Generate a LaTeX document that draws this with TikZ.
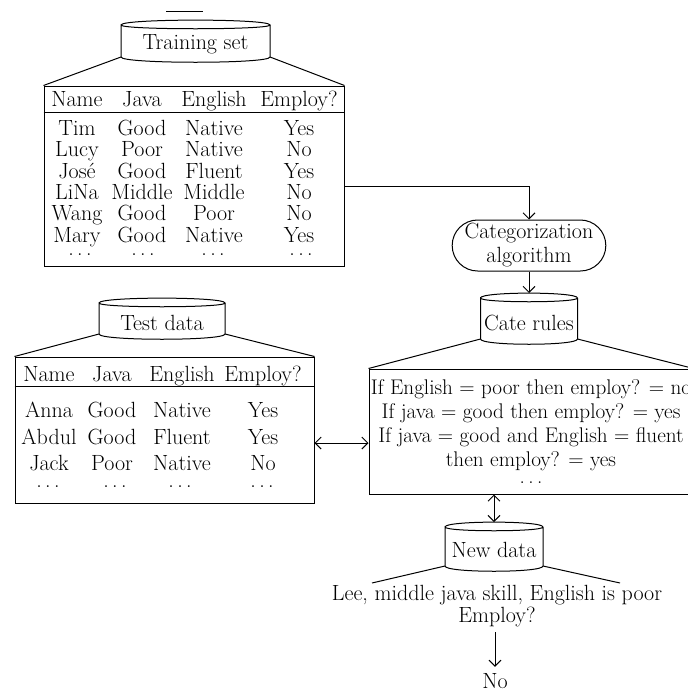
\documentclass[tikz,border=0pt]{standalone}
\usetikzlibrary{arrows.meta,calc,shapes.misc}
\newcommand\mycyl[7]{% name, cx, textY, halfw, topY, botY, text
  \node (#1) at (#2,#3) {#7};
  \coordinate (#1-nw) at ({#2-#4},#5);
  \coordinate (#1-ne) at ({#2+#4},#5);
  \coordinate (#1-sw) at ({#2-#4},#6);
  \coordinate (#1-se) at ({#2+#4},#6);
  \coordinate (#1-top) at (#2,{#5-5});
  \draw (#1-nw) .. controls +(0,-6.5) and +(0,-6.5) .. (#1-ne)
        .. controls +(0,5) and +(0,5) .. (#1-nw) -- (#1-sw)
        .. controls +(0,7) and +(0,7) .. (#1-se) -- (#1-ne);
}
\newcommand\dd{.\hspace{3.5pt}.\hspace{3.5pt}.}
\newcommand\trrow[6]{%
  \node[cell] (#1-1) at (77,#2) {#3};
  \node[cell] (#1-2) at (142,#2) {#4};
  \node[cell] (#1-3) at (214,#2) {#5};
  \node[cell] (#1-4) at (299,#2) {#6};
}
\newcommand\terow[6]{%
  \node[cell] (#1-1) at (49,#2) {#3};
  \node[cell] (#1-2) at (112,#2) {#4};
  \node[cell] (#1-3) at (182,#2) {#5};
  \node[cell] (#1-4) at (263,#2) {#6};
}
\begin{document}
\begin{tikzpicture}[x=1pt,y=-1pt,line width=1pt,
  every node/.style={font=\fontsize{22}{24}\selectfont,inner sep=0pt},
  cell/.style={text height=15pt,text depth=4pt},
  dotcell/.style={},
  arr/.style={-{Straight Barb[length=6pt,width=12pt]}},
  darr/.style={{Straight Barb[length=6pt,width=12pt]}-{Straight Barb[length=6pt,width=12pt]}}]
\useasboundingbox (0,0) rectangle (688,691);

% small mark at top
\coordinate (m1) at (166,11);
\coordinate (m2) at (203,11);
\draw (m1) -- (m2);

% ---------- Training set ----------
\mycyl{ts}{195.5}{44}{74.5}{25}{57}{Training set}
\node[draw,minimum width=300pt,minimum height=180pt] (trt) at (194,176) {};
\draw ($(trt.north west)+(0,27)$) -- ($(trt.north east)+(0,27)$);
\draw (ts-sw) -- (trt.north west);
\draw (ts-se) -- (trt.north east);
\trrow{trh}{101}{Name}{Java}{English}{Employ?}
\trrow{tr1}{130}{Tim}{Good}{Native}{Yes}
\trrow{tr2}{151}{Lucy}{Poor}{Native}{No}
\trrow{tr3}{173}{Jos\'e}{Good}{Fluent}{Yes}
\trrow{tr4}{194}{LiNa}{Middle}{Middle}{No}
\trrow{tr5}{215}{Wang}{Good}{Poor}{No}
\trrow{tr6}{237}{Mary}{Good}{Native}{Yes}
\node[dotcell] (tr7-1) at (80,255) {\dd};
\node[dotcell] (tr7-2) at (143,255) {\dd};
\node[dotcell] (tr7-3) at (213,255) {\dd};
\node[dotcell] (tr7-4) at (301,255) {\dd};

% ---------- Categorization ----------
\node[draw,rounded rectangle,minimum width=151pt,minimum height=51pt,align=center] (cat) at (529,245.5) {Categorization\\algorithm};
\draw[arr] ($(trt.north east)+(0,101)$) -| (cat.north);

% ---------- Cate rules ----------
\mycyl{cr}{529}{323}{48.5}{298}{339}{Cate rules}
\draw[arr] (cat.south) -- (cr-top);
\node[draw,minimum width=324pt,minimum height=125pt,align=center,font=\fontsize{21.2}{24}\selectfont] (rules) at (531,431.5)
  {If English = poor then employ? = no\\If java = good then employ? = yes\\If java = good and English = fluent\\then employ? = yes\\[-7pt]\dd};
\draw (cr-sw) -- (rules.north west);
\draw (cr-se) -- (rules.north east);

% ---------- Test data ----------
\mycyl{td}{162}{323}{63}{303}{334}{Test data}
\node[draw,minimum width=299pt,minimum height=146pt] (tet) at (164.5,430) {};
\draw ($(tet.north west)+(0,30)$) -- ($(tet.north east)+(0,30)$);
\draw (td-sw) -- (tet.north west);
\draw (td-se) -- (tet.north east);
\terow{teh}{376}{Name}{Java}{English}{Employ?}
\terow{te1}{412}{Anna}{Good}{Native}{Yes}
\terow{te2}{439}{Abdul}{Good}{Fluent}{Yes}
\terow{te3}{465}{Jack}{Poor}{Native}{No}
\node[dotcell] (te4-1) at (48,487) {\dd};
\node[dotcell] (te4-2) at (115,487) {\dd};
\node[dotcell] (te4-3) at (180,487) {\dd};
\node[dotcell] (te4-4) at (262,487) {\dd};
\draw[darr] ($(tet.east)+(0,13)$) -- ($(rules.west)+(0,11.5)$);

% ---------- New data ----------
\mycyl{nd}{494}{550}{49}{527}{566}{New data}
\draw[darr] (rules.south -| nd-top) -- (nd-top);
\coordinate (ndl) at (372,583);
\coordinate (ndr) at (620,583);
\draw (nd-sw) -- (ndl);
\draw (nd-se) -- (ndr);
\node[align=center] (lee) at (497,606) {Lee, middle java skill, English is poor\\[-2pt]Employ?};
\node (no) at (495,681) {No};
\draw[arr,shorten >=6pt] ($(lee.south -| no.north)+(0,5)$) -- (no.north);
\end{tikzpicture}
\end{document}
